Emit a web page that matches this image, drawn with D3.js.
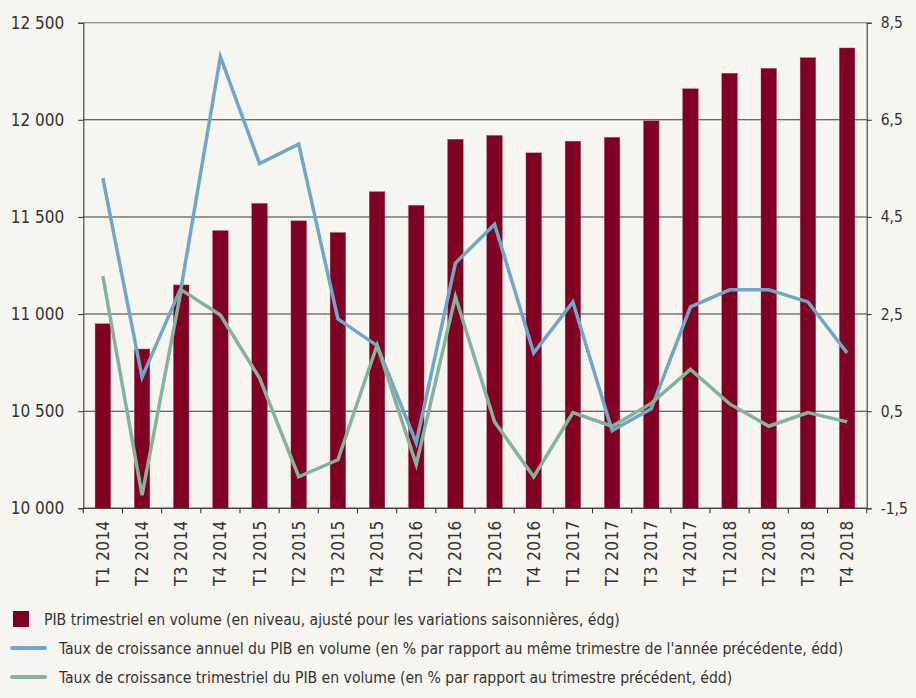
<!DOCTYPE html>
<html>
<head>
<meta charset="utf-8">
<script src="https://cdn.jsdelivr.net/npm/d3@7/dist/d3.min.js"></script>
<style>
  html, body { margin: 0; padding: 0; background: #f7f5f0; }
  svg { display: block; }
  text { font-family: "DejaVu Sans Condensed", "Liberation Sans Narrow", "Roboto", sans-serif; fill: #333; }
</style>
</head>
<body>
<svg id="chart" width="916" height="698"></svg>
<script>
// Quarters shown on the x axis
const quarters = [
  "T1 2014", "T2 2014", "T3 2014", "T4 2014",
  "T1 2015", "T2 2015", "T3 2015", "T4 2015",
  "T1 2016", "T2 2016", "T3 2016", "T4 2016",
  "T1 2017", "T2 2017", "T3 2017", "T4 2017",
  "T1 2018", "T2 2018", "T3 2018", "T4 2018"
];

// Quarterly GDP level (volume, seasonally adjusted) – left axis
const gdpLevel = [
  10950, 10820, 11150, 11430,
  11570, 11480, 11420, 11630,
  11560, 11900, 11920, 11830,
  11890, 11910, 11995, 12160,
  12240, 12265, 12320, 12370
];

// Year-on-year growth rate, % – right axis
const annualGrowth = [
  5.3, 1.2, 3.05, 7.8,
  5.6, 6.0, 2.4, 1.85,
  -0.15, 3.55, 4.35, 1.7,
  2.75, 0.1, 0.55, 2.65,
  3.0, 3.0, 2.75, 1.7
];

// Quarter-on-quarter growth rate, % – right axis
const quarterlyGrowth = [
  3.28, -1.23, 3.0, 2.48,
  1.18, -0.85, -0.5, 1.86,
  -0.6, 2.86, 0.28, -0.85,
  0.47, 0.19, 0.66, 1.36,
  0.65, 0.19, 0.47, 0.28
];

const leftTicks = [10000, 10500, 11000, 11500, 12000, 12500];
const rightTicks = [-1.5, 0.5, 2.5, 4.5, 6.5, 8.5];

const legendItems = [
  { label: "PIB trimestriel en volume (en niveau, ajusté pour les variations saisonnières, édg)", type: "bar" },
  { label: "Taux de croissance annuel du PIB en volume (en % par rapport au même trimestre de l'année précédente, édd)", type: "annual" },
  { label: "Taux de croissance trimestriel du PIB en volume (en % par rapport au trimestre précédent, édd)", type: "quarterly" }
];

const colors = { bar: "#7f0022", annual: "#72a6c6", quarterly: "#86b29c", grid: "#3a3a3a" };

const svg = d3.select("#chart");
const margin = { top: 22.7, right: 49.3, bottom: 189.7, left: 83.3 };
const W = 916, H = 698;
const plotW = W - margin.left - margin.right;
const plotH = H - margin.top - margin.bottom;

const g = svg.append("g").attr("transform", `translate(${margin.left},${margin.top})`);

const xBounds = d3.scaleLinear().domain([0, quarters.length]).range([0, plotW]);
const yL = d3.scaleLinear().domain([10000, 12500]).range([plotH, 0]);
const yR = d3.scaleLinear().domain([-1.5, 8.5]).range([plotH, 0]);

const fmtLeft = d => d3.format(",")(d).replace(",", " ");
const fmtRight = d => d3.format(".1f")(d).replace(".", ",").replace("\u2212", "-");

// horizontal grid lines
g.append("g")
  .selectAll("line")
  .data(leftTicks)
  .join("line")
  .attr("x1", 0).attr("x2", plotW)
  .attr("y1", d => yL(d)).attr("y2", d => yL(d))
  .attr("stroke", (d, i) => i === leftTicks.length - 1 ? "#707070" : colors.grid)
  .attr("stroke-width", 1.1);

// bars
g.append("g")
  .selectAll("rect")
  .data(quarters)
  .join("rect")
  .attr("x", (d, i) => xBounds(i + 0.5) - 7.8)
  .attr("width", 15.6)
  .attr("y", (d, i) => yL(gdpLevel[i]))
  .attr("height", (d, i) => plotH - yL(gdpLevel[i]))
  .attr("fill", colors.bar)
  .attr("stroke", "#b35a73")
  .attr("stroke-width", 0.4);

// growth lines
const lineFor = arr => d3.line()
  .x((d, i) => xBounds(i + 0.5))
  .y(d => yR(d))(arr);

g.append("path")
  .attr("d", lineFor(annualGrowth))
  .attr("fill", "none")
  .attr("stroke", colors.annual)
  .attr("stroke-width", 3.5)
  .attr("stroke-linejoin", "miter");

g.append("path")
  .attr("d", lineFor(quarterlyGrowth))
  .attr("fill", "none")
  .attr("stroke", colors.quarterly)
  .attr("stroke-width", 3.5)
  .attr("stroke-linejoin", "miter");

// left axis
const axL = g.append("g")
  .call(d3.axisLeft(yL).tickValues(leftTicks).tickFormat(fmtLeft).tickSize(5).tickPadding(14));
axL.select(".domain").attr("stroke", colors.grid).attr("stroke-width", 1.1);
axL.selectAll(".tick line").attr("stroke", colors.grid).attr("stroke-width", 1.1);
axL.selectAll(".tick text").attr("font-size", 17).attr("fill", "#333")
  .attr("font-family", "DejaVu Sans Condensed, Liberation Sans Narrow, sans-serif");

// right axis
const axR = g.append("g")
  .attr("transform", `translate(${plotW},0)`)
  .call(d3.axisRight(yR).tickValues(rightTicks).tickFormat(fmtRight).tickSize(5).tickPadding(9));
axR.select(".domain").attr("stroke", colors.grid).attr("stroke-width", 1.1);
axR.selectAll(".tick line").attr("stroke", colors.grid).attr("stroke-width", 1.1);
axR.selectAll(".tick text").attr("font-size", 15.5).attr("fill", "#333")
  .attr("font-family", "DejaVu Sans Condensed, Liberation Sans Narrow, sans-serif");

// bottom axis: ticks at the quarter boundaries
const axB = g.append("g").attr("transform", `translate(0,${plotH})`);
axB.append("line").attr("x1", 0).attr("x2", plotW).attr("stroke", colors.grid).attr("stroke-width", 1.1);
axB.selectAll("line.tick")
  .data(d3.range(quarters.length + 1))
  .join("line")
  .attr("class", "tick")
  .attr("x1", d => xBounds(d)).attr("x2", d => xBounds(d))
  .attr("y1", 0).attr("y2", 5)
  .attr("stroke", colors.grid).attr("stroke-width", 1.1);
axB.selectAll("text")
  .data(quarters)
  .join("text")
  .attr("transform", (d, i) => `translate(${xBounds(i + 0.5) + 6},${12}) rotate(-90)`)
  .attr("text-anchor", "end")
  .attr("font-size", 17)
  .attr("letter-spacing", 0.4)
  .text(d => d);

// legend
const legend = svg.append("g");
const rowY = [619, 648, 677];
legendItems.forEach((item, i) => {
  const row = legend.append("g").attr("transform", `translate(0,${rowY[i]})`);
  if (item.type === "bar") {
    row.append("rect").attr("x", 13).attr("y", -8).attr("width", 16).attr("height", 16).attr("fill", colors.bar);
    row.append("text").attr("x", 44).attr("y", 5.5).attr("font-size", 15.6).text(item.label);
  } else {
    row.append("line").attr("x1", 12).attr("x2", 45).attr("y1", 0).attr("y2", 0)
      .attr("stroke", colors[item.type]).attr("stroke-width", 4).attr("stroke-linecap", "round");
    row.append("text").attr("x", 59).attr("y", 5.5).attr("font-size", 15.6).text(item.label);
  }
});
</script>
</body>
</html>
